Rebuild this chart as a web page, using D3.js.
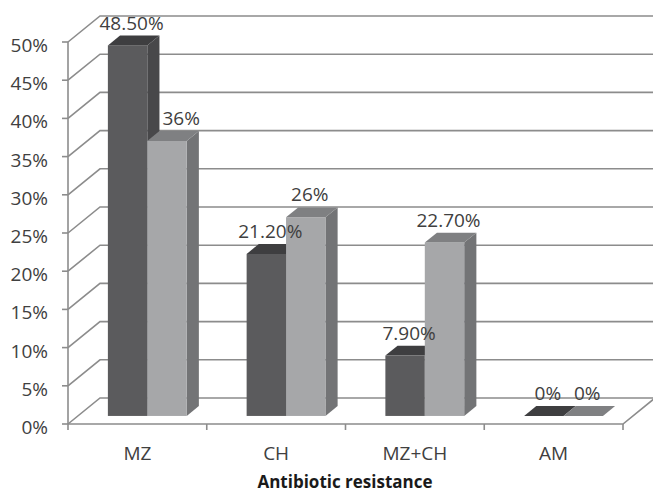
<!DOCTYPE html>
<html>
<head>
<meta charset="utf-8">
<script src="https://cdn.jsdelivr.net/npm/d3@7"></script>
<style>
  body { margin: 0; background: #fff; }
  text { font-family: "Open Sans", sans-serif; fill: #404040; }
</style>
</head>
<body>
<div id="chart"></div>
<script>
// data
var categories = ["MZ", "CH", "MZ+CH", "AM"];
var series = ["s1", "s2"];
var seriesA = [48.5, 21.2, 7.9, 0];
var seriesB = [36, 26, 22.7, 0];
var labelsA = ["48.50%", "21.20%", "7.90%", "0%"];
var labelsB = ["36%", "26%", "22.70%", "0%"];
var yTicks = [0, 5, 10, 15, 20, 25, 30, 35, 40, 45, 50];

var width = 653, height = 493;

var svg = d3.select("#chart").append("svg")
    .attr("width", width)
    .attr("height", height);

// front plane scales
var y = d3.scaleLinear().domain([0, 50]).range([424, 42]);
var x = d3.scaleBand().domain(categories).range([68, 623]);
var xs = d3.scaleBand().domain(series).range([0, x.bandwidth()]).paddingOuter(0.76);

// depth of the 3d box, and where the bars sit in it
var depth = {dx: 32, dy: -26};
var barFront = 0.31, barBack = 0.69;

var grid = svg.append("g");

// back wall gridlines with the diagonal part on the left wall
yTicks.forEach(function(t) {
    var yy = y(t);
    grid.append("path")
        .attr("d", "M" + 68 + "," + yy + "L" + (68 + depth.dx) + "," + (yy + depth.dy) + "L" + 660 + "," + (yy + depth.dy))
        .attr("fill", "none")
        .attr("stroke", "#8c8c8c")
        .attr("stroke-width", 1.6);
});

// floor right edge and front axis
grid.append("path")
    .attr("d", "M68," + y(0) + "L623," + y(0) + "L" + (623 + depth.dx) + "," + (y(0) + depth.dy))
    .attr("fill", "none")
    .attr("stroke", "#8c8c8c")
    .attr("stroke-width", 1.6);

grid.append("line")
    .attr("x1", 68).attr("x2", 68)
    .attr("y1", y(50)).attr("y2", y(0))
    .attr("stroke", "#8c8c8c")
    .attr("stroke-width", 1.6);

// y ticks
yTicks.forEach(function(t) {
    grid.append("line")
        .attr("x1", 62).attr("x2", 68)
        .attr("y1", y(t)).attr("y2", y(t))
        .attr("stroke", "#8c8c8c").attr("stroke-width", 1.6);
    svg.append("text")
        .attr("x", 48)
        .attr("y", y(t) + 10)
        .attr("text-anchor", "end")
        .style("font-size", "19px")
        .text(t + "%");
});

// category ticks
x.domain().concat(["end"]).forEach(function(c, i) {
    var xx = 68 + i * x.bandwidth();
    grid.append("line")
        .attr("x1", xx).attr("x2", xx)
        .attr("y1", y(0)).attr("y2", y(0) + 6)
        .attr("stroke", "#8c8c8c").attr("stroke-width", 1.6);
});

svg.selectAll(".cat")
    .data(categories)
    .enter().append("text")
    .attr("class", "cat")
    .attr("x", function(d) { return x(d) + x.bandwidth() / 2; })
    .attr("y", 460)
    .attr("text-anchor", "middle")
    .style("font-size", "19px")
    .text(function(d) { return d; });

svg.append("text")
    .attr("x", 345)
    .attr("y", 488)
    .attr("text-anchor", "middle")
    .style("font-size", "17px")
    .style("font-weight", "bold")
    .style("fill", "#1a1a1a")
    .text("Antibiotic resistance");

// bars
var colors = {
    s1: {front: "#5b5b5d", top: "#3e3e40", side: "#48484a"},
    s2: {front: "#a6a7a9", top: "#7f8082", side: "#737476"}
};

var bars = [];
categories.forEach(function(c, i) {
    bars.push({cat: c, s: "s1", v: seriesA[i], other: null, label: labelsA[i]});
    bars.push({cat: c, s: "s2", v: seriesB[i], other: seriesA[i], label: labelsB[i]});
});

var ox = depth.dx * barFront, oy = depth.dy * barFront;
var bx = depth.dx * (barBack - barFront), by = depth.dy * (barBack - barFront);

var barG = svg.append("g");
var labelG = svg.append("g");
bars.forEach(function(d) {
    var x0 = x(d.cat) + xs(d.s) + ox;
    var x1 = x0 + xs.bandwidth();
    var yb = y(0) + oy;
    var yt = y(d.v) + oy;
    var col = colors[d.s];

    // side
    barG.append("path")
        .attr("d", "M" + x1 + "," + yb + "L" + (x1 + bx) + "," + (yb + by) + "L" + (x1 + bx) + "," + (yt + by) + "L" + x1 + "," + yt + "Z")
        .attr("fill", col.side);
    // front
    barG.append("rect")
        .attr("x", x0).attr("y", yt)
        .attr("width", x1 - x0).attr("height", yb - yt)
        .attr("fill", col.front);
    // top
    barG.append("path")
        .attr("d", "M" + x0 + "," + yt + "L" + (x0 + bx) + "," + (yt + by) + "L" + (x1 + bx) + "," + (yt + by) + "L" + x1 + "," + yt + "Z")
        .attr("fill", col.top);

    // label: keep clear of a taller neighbour on the left
    var blocked = d.other !== null && d.other > d.v;
    labelG.append("text")
        .attr("x", blocked ? x0 + bx + 3 : (x0 + x1) / 2 + 4)
        .attr("y", yt + by - 6)
        .attr("text-anchor", blocked ? "start" : "middle")
        .style("font-size", "19px")
        .text(d.label);
});
</script>
</body>
</html>
